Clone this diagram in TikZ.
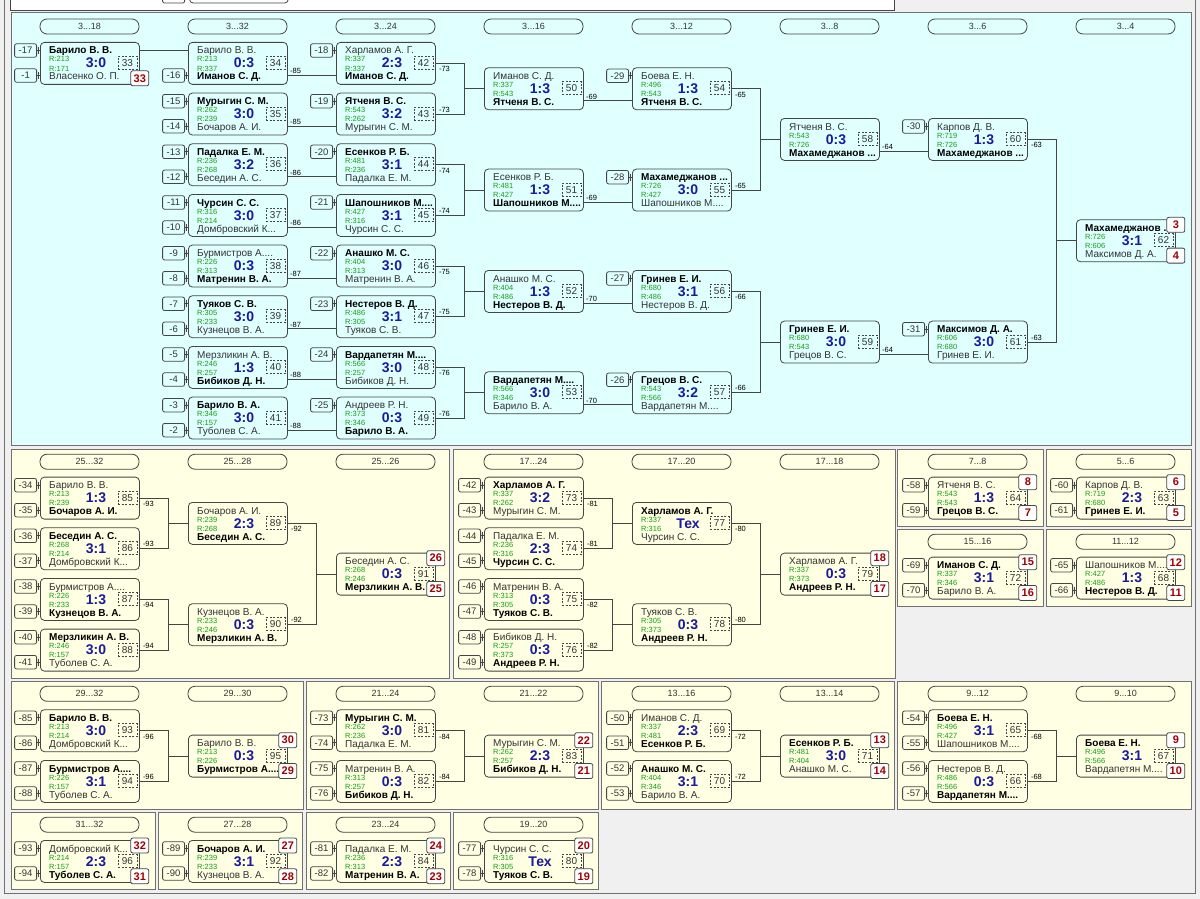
\documentclass[tikz,border=0pt]{standalone}
\usepackage{fontspec}
\setmainfont{Liberation Sans}
\definecolor{bgc}{HTML}{F0F0F0}
\definecolor{cyanp}{HTML}{E0FFFF}
\definecolor{yelp}{HTML}{FFFFE3}
\definecolor{boxc}{HTML}{454545}
\definecolor{panc}{HTML}{707070}
\definecolor{namec}{HTML}{333333}
\definecolor{rc}{HTML}{10A010}
\definecolor{scc}{HTML}{1A1A9E}
\definecolor{redc}{HTML}{A00000}
\tikzset{
 mbox/.style={draw=boxc, rounded corners=4, minimum width=99, minimum height=42, inner sep=0, line width=0.8},
 nm/.style={inner sep=0, font=\fontsize{10}{12}\selectfont, text=namec},
 rr/.style={inner sep=0, font=\fontsize{7.5}{9}\selectfont, text=rc},
 sc/.style={inner sep=0, font=\bfseries\fontsize{14}{16}\selectfont, text=scc},
 dbox/.style={draw=boxc, dash pattern=on 2pt off 1.5pt, line width=0.7, minimum width=19, minimum height=13, inner sep=0, font=\fontsize{10}{12}\selectfont, text=namec},
 nbox/.style={draw=boxc, rounded corners=2, line width=0.8, minimum width=22, minimum height=13.5, inner sep=0, font=\fontsize{9.5}{11}\selectfont, text=namec},
 rbox/.style={draw=boxc, fill=white, rounded corners=2, line width=0.8, minimum width=18, minimum height=15, inner sep=0, font=\bfseries\fontsize{11}{12}\selectfont, text=redc},
 pill/.style={draw=boxc, rounded corners=7, line width=0.8, minimum width=99, minimum height=15, inner sep=0, font=\fontsize{9}{10}\selectfont, text=namec},
 conn/.style={draw=boxc, line width=0.8},
 lbl/.style={inner sep=0.5, font=\fontsize{7.5}{9}\selectfont, text=black},
 pan/.style={draw=panc, line width=1},
}
\newcommand\wn[1]{\textbf{\color{black}#1}}
\newcommand\mmatch[9]{%
 \node[mbox, anchor=north west] (m#1) at (#2,#3) {};
 \coordinate (m#1tl) at (#2,#3+8.5);
 \coordinate (m#1tr) at (#2+99,#3+8.5);
 \coordinate (m#1bl) at (#2,#3+33.5);
 \coordinate (m#1br) at (#2+99,#3+33.5);
 \node[nm, anchor=base west] (m#1n1) at (#2+9,#3+12) {#6};
 \node[rr, anchor=base west] (m#1r1) at (#2+9,#3+20) {R:#7};
 \node[rr, anchor=base west] (m#1r2) at (#2+9,#3+29) {R:#9};
 \node[nm, anchor=base west] (m#1n2) at (#2+9,#3+38) {#8};
 \node[sc, anchor=base] (m#1s) at (#2+56,#3+26) {#5};
 \node[dbox] (m#1d) at (#2+87.5,#3+21) {#4};
}
\newcommand\mredt[2]{\node[rbox] (m#1rt) at ([yshift=-5.5pt]m#1.north east) {#2};}
\newcommand\mredb[2]{\node[rbox] (m#1rb) at ([yshift=6.5pt]m#1.south east) {#2};}
\newcommand\mnb[3]{%
 \node[nbox, anchor=east] (m#1x#2) at ([xshift=-3pt]m#1#2l) {#3};
 \draw[conn] (m#1x#2.east) -- (m#1#2l);
 \draw[conn] ([xshift=-1.5pt,yshift=3.5pt]m#1#2l) -- ([xshift=-1.5pt,yshift=-3.5pt]m#1#2l);
}
\newcommand\mlinen[3]{\draw[conn] (m#1#3r) -- (m#2#3l);}
\newcommand\mline[4]{%
 \draw[conn] (m#1#3r) -- (m#2#3l);
 \node[lbl, anchor=south west] (m#1lab) at ([xshift=2.5pt,yshift=1pt]m#1#3r) {#4};
}
\newcommand\mbracket[4]{%
 \draw[conn] (m#1.east) -- ++(28.5,0) |- (m#3.west);
 \draw[conn] (m#2.east) -- ++(28.5,0) |- (m#3.west);
 \node[lbl, anchor=north west] (m#1lab) at ([xshift=2.5pt,yshift=-2.5pt]m#1.east) {#4};
 \node[lbl, anchor=south west] (m#2lab) at ([xshift=2.5pt,yshift=1pt]m#2.east) {#4};
}
\newcommand\mhead[3]{\node[pill] (h#1) at (#1+49.5,#2) {#3};}
\begin{document}
\begin{tikzpicture}[x=1pt,y=-1pt]
\useasboundingbox (0,0) rectangle (1200,899);
\fill[bgc] (0,0) rectangle (1200,899);
\draw[panc, line width=1] (4.5,-3) -- (4.5,893.5) -- (1195.5,893.5) -- (1195.5,-3);
% top white strip
\filldraw[fill=white, draw=boxc, line width=1] (10,-3) rectangle (894,10.5);
\begin{scope}
\clip (10.5,0) rectangle (893.5,10);
\node[nbox, anchor=south east, minimum height=20] (xa) at (185,3.5) {};
\node[mbox, anchor=south west] (xb) at (189,3.5) {};
\end{scope}
% panels
\filldraw[pan, fill=cyanp] (11,13) rectangle (1191,445);
\filldraw[pan, fill=yelp] (11,449) rectangle (449,678);
\filldraw[pan, fill=yelp] (453,449) rectangle (895,678);
\filldraw[pan, fill=yelp] (897,449) rectangle (1043,526);
\filldraw[pan, fill=yelp] (1046,449) rectangle (1191,526);
\filldraw[pan, fill=yelp] (897,529) rectangle (1043,606);
\filldraw[pan, fill=yelp] (1046,529) rectangle (1191,606);
\filldraw[pan, fill=yelp] (11,681) rectangle (303,809);
\filldraw[pan, fill=yelp] (306,681) rectangle (598,809);
\filldraw[pan, fill=yelp] (601,681) rectangle (894,809);
\filldraw[pan, fill=yelp] (897,681) rectangle (1191,809);
\filldraw[pan, fill=yelp] (11,812) rectangle (155,889);
\filldraw[pan, fill=yelp] (158,812) rectangle (302,889);
\filldraw[pan, fill=yelp] (306,812) rectangle (450,889);
\filldraw[pan, fill=yelp] (453,812) rectangle (598,889);
% headers
\mhead{40}{26.5}{3...18}\mhead{188}{26.5}{3...32}\mhead{336}{26.5}{3...24}\mhead{484}{26.5}{3...16}
\mhead{632}{26.5}{3...12}\mhead{780}{26.5}{3...8}\mhead{928}{26.5}{3...6}\mhead{1076}{26.5}{3...4}
\node[pill] (g1) at (89.5,461.7) {25...32};
\node[pill] (g2) at (237.5,461.7) {25...28};
\node[pill] (g3) at (385.5,461.7) {25...26};
\node[pill] (g4) at (533.5,461.7) {17...24};
\node[pill] (g5) at (681.5,461.7) {17...20};
\node[pill] (g6) at (829.5,461.7) {17...18};
\node[pill] (g7) at (977.5,461.7) {7...8};
\node[pill] (g8) at (1125.5,461.7) {5...6};
\node[pill] (g9) at (977.5,541.7) {15...16};
\node[pill] (g10) at (1125.5,541.7) {11...12};
\node[pill] (g11) at (89.5,693.8) {29...32};
\node[pill] (g12) at (237.5,693.8) {29...30};
\node[pill] (g13) at (385.5,693.8) {21...24};
\node[pill] (g14) at (533.5,693.8) {21...22};
\node[pill] (g15) at (681.5,693.8) {13...16};
\node[pill] (g16) at (829.5,693.8) {13...14};
\node[pill] (g17) at (977.5,693.8) {9...12};
\node[pill] (g18) at (1125.5,693.8) {9...10};
\node[pill] (g19) at (89.5,824.7) {31...32};
\node[pill] (g20) at (237.5,824.7) {27...28};
\node[pill] (g21) at (385.5,824.7) {23...24};
\node[pill] (g22) at (533.5,824.7) {19...20};
% ===== top panel =====
\mmatch{33}{40}{42}{33}{3:0}{\wn{Барило В. В.}}{213}{Власенко О. П.}{171}
\mnb{33}{t}{-17}\mnb{33}{b}{-1}
\mmatch{34}{188}{42}{34}{0:3}{Барило В. В.}{213}{\wn{Иманов С. Д.}}{337}
\mnb{34}{b}{-16}
\mmatch{35}{188}{92.67}{35}{3:0}{\wn{Мурыгин С. М.}}{262}{Бочаров А. И.}{239}
\mnb{35}{t}{-15}\mnb{35}{b}{-14}
\mmatch{36}{188}{143.33}{36}{3:2}{\wn{Падалка Е. М.}}{236}{Беседин А. С.}{268}
\mnb{36}{t}{-13}\mnb{36}{b}{-12}
\mmatch{37}{188}{194}{37}{3:0}{\wn{Чурсин С. С.}}{316}{Домбровский К...}{214}
\mnb{37}{t}{-11}\mnb{37}{b}{-10}
\mmatch{38}{188}{244.67}{38}{0:3}{Бурмистров А....}{226}{\wn{Матренин В. А.}}{313}
\mnb{38}{t}{-9}\mnb{38}{b}{-8}
\mmatch{39}{188}{295.33}{39}{3:0}{\wn{Туяков С. В.}}{305}{Кузнецов В. А.}{233}
\mnb{39}{t}{-7}\mnb{39}{b}{-6}
\mmatch{40}{188}{346}{40}{1:3}{Мерзликин А. В.}{246}{\wn{Бибиков Д. Н.}}{257}
\mnb{40}{t}{-5}\mnb{40}{b}{-4}
\mmatch{41}{188}{396.67}{41}{3:0}{\wn{Барило В. А.}}{346}{Туболев С. А.}{157}
\mnb{41}{t}{-3}\mnb{41}{b}{-2}
\mmatch{42}{336}{42}{42}{2:3}{Харламов А. Г.}{337}{\wn{Иманов С. Д.}}{337}\mnb{42}{t}{-18}
\mmatch{43}{336}{92.67}{43}{3:2}{\wn{Ятченя В. С.}}{543}{Мурыгин С. М.}{262}\mnb{43}{t}{-19}
\mmatch{44}{336}{143.33}{44}{3:1}{\wn{Есенков Р. Б.}}{481}{Падалка Е. М.}{236}\mnb{44}{t}{-20}
\mmatch{45}{336}{194}{45}{3:1}{\wn{Шапошников М....}}{427}{Чурсин С. С.}{316}\mnb{45}{t}{-21}
\mmatch{46}{336}{244.67}{46}{3:0}{\wn{Анашко М. С.}}{404}{Матренин В. А.}{313}\mnb{46}{t}{-22}
\mmatch{47}{336}{295.33}{47}{3:1}{\wn{Нестеров В. Д.}}{486}{Туяков С. В.}{305}\mnb{47}{t}{-23}
\mmatch{48}{336}{346}{48}{3:0}{\wn{Вардапетян М....}}{566}{Бибиков Д. Н.}{257}\mnb{48}{t}{-24}
\mmatch{49}{336}{396.67}{49}{0:3}{Андреев Р. Н.}{373}{\wn{Барило В. А.}}{346}\mnb{49}{t}{-25}
\mmatch{50}{484}{67.33}{50}{1:3}{Иманов С. Д.}{337}{\wn{Ятченя В. С.}}{543}
\mmatch{51}{484}{168.67}{51}{1:3}{Есенков Р. Б.}{481}{\wn{Шапошников М....}}{427}
\mmatch{52}{484}{270}{52}{1:3}{Анашко М. С.}{404}{\wn{Нестеров В. Д.}}{486}
\mmatch{53}{484}{371.33}{53}{3:0}{\wn{Вардапетян М....}}{566}{Барило В. А.}{346}
\mmatch{54}{632}{67.33}{54}{1:3}{Боева Е. Н.}{496}{\wn{Ятченя В. С.}}{543}\mnb{54}{t}{-29}
\mmatch{55}{632}{168.67}{55}{3:0}{\wn{Махамеджанов ...}}{726}{Шапошников М....}{427}\mnb{55}{t}{-28}
\mmatch{56}{632}{270}{56}{3:1}{\wn{Гринев Е. И.}}{680}{Нестеров В. Д.}{486}\mnb{56}{t}{-27}
\mmatch{57}{632}{371.33}{57}{3:2}{\wn{Грецов В. С.}}{543}{Вардапетян М....}{566}\mnb{57}{t}{-26}
\mmatch{58}{780}{118}{58}{0:3}{Ятченя В. С.}{543}{\wn{Махамеджанов ...}}{726}
\mmatch{59}{780}{320.67}{59}{3:0}{\wn{Гринев Е. И.}}{680}{Грецов В. С.}{543}
\mmatch{60}{928}{118}{60}{1:3}{Карпов Д. В.}{719}{\wn{Махамеджанов ...}}{726}\mnb{60}{t}{-30}
\mmatch{61}{928}{320.67}{61}{3:0}{\wn{Максимов Д. А.}}{606}{Гринев Е. И.}{680}\mnb{61}{t}{-31}
\mmatch{62}{1076}{219.33}{62}{3:1}{\wn{Махамеджанов ...}}{726}{Максимов Д. А.}{606}
\mlinen{33}{34}{t}
\mline{34}{42}{b}{-85}\mline{35}{43}{b}{-85}\mline{36}{44}{b}{-86}\mline{37}{45}{b}{-86}
\mline{38}{46}{b}{-87}\mline{39}{47}{b}{-87}\mline{40}{48}{b}{-88}\mline{41}{49}{b}{-88}
\mbracket{42}{43}{50}{-73}\mbracket{44}{45}{51}{-74}\mbracket{46}{47}{52}{-75}\mbracket{48}{49}{53}{-76}
\mline{50}{54}{b}{-69}\mline{51}{55}{b}{-69}\mline{52}{56}{b}{-70}\mline{53}{57}{b}{-70}
\mbracket{54}{55}{58}{-65}\mbracket{56}{57}{59}{-66}
\mline{58}{60}{b}{-64}\mline{59}{61}{b}{-64}
\mbracket{60}{61}{62}{-63}
\mredb{33}{33}
\mredt{62}{3}\mredb{62}{4}
% ===== 25...32 =====
\mmatch{85}{40}{476.7}{85}{1:3}{Барило В. В.}{213}{\wn{Бочаров А. И.}}{239}\mnb{85}{t}{-34}\mnb{85}{b}{-35}
\mmatch{86}{40}{527.3}{86}{3:1}{\wn{Беседин А. С.}}{268}{Домбровский К...}{214}\mnb{86}{t}{-36}\mnb{86}{b}{-37}
\mmatch{87}{40}{578}{87}{1:3}{Бурмистров А....}{226}{\wn{Кузнецов В. А.}}{233}\mnb{87}{t}{-38}\mnb{87}{b}{-39}
\mmatch{88}{40}{628.7}{88}{3:0}{\wn{Мерзликин А. В.}}{246}{Туболев С. А.}{157}\mnb{88}{t}{-40}\mnb{88}{b}{-41}
\mmatch{89}{188}{502}{89}{2:3}{Бочаров А. И.}{239}{\wn{Беседин А. С.}}{268}
\mmatch{90}{188}{603.3}{90}{0:3}{Кузнецов В. А.}{233}{\wn{Мерзликин А. В.}}{246}
\mmatch{91}{336}{552.7}{91}{0:3}{Беседин А. С.}{268}{\wn{Мерзликин А. В.}}{246}
\mbracket{85}{86}{89}{-93}\mbracket{87}{88}{90}{-94}\mbracket{89}{90}{91}{-92}
\mredt{91}{26}\mredb{91}{25}
% ===== 17...24 =====
\mmatch{73}{484}{476.7}{73}{3:2}{\wn{Харламов А. Г.}}{337}{Мурыгин С. М.}{262}\mnb{73}{t}{-42}\mnb{73}{b}{-43}
\mmatch{74}{484}{527.3}{74}{2:3}{Падалка Е. М.}{236}{\wn{Чурсин С. С.}}{316}\mnb{74}{t}{-44}\mnb{74}{b}{-45}
\mmatch{75}{484}{578}{75}{0:3}{Матренин В. А.}{313}{\wn{Туяков С. В.}}{305}\mnb{75}{t}{-46}\mnb{75}{b}{-47}
\mmatch{76}{484}{628.7}{76}{0:3}{Бибиков Д. Н.}{257}{\wn{Андреев Р. Н.}}{373}\mnb{76}{t}{-48}\mnb{76}{b}{-49}
\mmatch{77}{632}{502}{77}{Тех}{\wn{Харламов А. Г.}}{337}{Чурсин С. С.}{316}
\mmatch{78}{632}{603.3}{78}{0:3}{Туяков С. В.}{305}{\wn{Андреев Р. Н.}}{373}
\mmatch{79}{780}{552.7}{79}{0:3}{Харламов А. Г.}{337}{\wn{Андреев Р. Н.}}{373}
\mbracket{73}{74}{77}{-81}\mbracket{75}{76}{78}{-82}\mbracket{77}{78}{79}{-80}
\mredt{79}{18}\mredb{79}{17}
% ===== small panels =====
\mmatch{64}{928}{476.7}{64}{1:3}{Ятченя В. С.}{543}{\wn{Грецов В. С.}}{543}\mnb{64}{t}{-58}\mnb{64}{b}{-59}
\mredt{64}{8}\mredb{64}{7}
\mmatch{63}{1076}{476.7}{63}{2:3}{Карпов Д. В.}{719}{\wn{Гринев Е. И.}}{680}\mnb{63}{t}{-60}\mnb{63}{b}{-61}
\mredt{63}{6}\mredb{63}{5}
\mmatch{72}{928}{556.7}{72}{3:1}{\wn{Иманов С. Д.}}{337}{Барило В. А.}{346}\mnb{72}{t}{-69}\mnb{72}{b}{-70}
\mredt{72}{15}\mredb{72}{16}
\mmatch{68}{1076}{556.7}{68}{1:3}{Шапошников М....}{427}{\wn{Нестеров В. Д.}}{486}\mnb{68}{t}{-65}\mnb{68}{b}{-66}
\mredt{68}{12}\mredb{68}{11}
% ===== row 3 =====
\mmatch{93}{40}{709.3}{93}{3:0}{\wn{Барило В. В.}}{213}{Домбровский К...}{214}\mnb{93}{t}{-85}\mnb{93}{b}{-86}
\mmatch{94}{40}{760}{94}{3:1}{\wn{Бурмистров А....}}{226}{Туболев С. А.}{157}\mnb{94}{t}{-87}\mnb{94}{b}{-88}
\mmatch{95}{188}{734.7}{95}{0:3}{Барило В. В.}{213}{\wn{Бурмистров А....}}{226}
\mbracket{93}{94}{95}{-96}
\mredt{95}{30}\mredb{95}{29}
\mmatch{81}{336}{709.3}{81}{3:0}{\wn{Мурыгин С. М.}}{262}{Падалка Е. М.}{236}\mnb{81}{t}{-73}\mnb{81}{b}{-74}
\mmatch{82}{336}{760}{82}{0:3}{Матренин В. А.}{313}{\wn{Бибиков Д. Н.}}{257}\mnb{82}{t}{-75}\mnb{82}{b}{-76}
\mmatch{83}{484}{734.7}{83}{2:3}{Мурыгин С. М.}{262}{\wn{Бибиков Д. Н.}}{257}
\mbracket{81}{82}{83}{-84}
\mredt{83}{22}\mredb{83}{21}
\mmatch{69}{632}{709.3}{69}{2:3}{Иманов С. Д.}{337}{\wn{Есенков Р. Б.}}{481}\mnb{69}{t}{-50}\mnb{69}{b}{-51}
\mmatch{70}{632}{760}{70}{3:1}{\wn{Анашко М. С.}}{404}{Барило В. А.}{346}\mnb{70}{t}{-52}\mnb{70}{b}{-53}
\mmatch{71}{780}{734.7}{71}{3:0}{\wn{Есенков Р. Б.}}{481}{Анашко М. С.}{404}
\mbracket{69}{70}{71}{-72}
\mredt{71}{13}\mredb{71}{14}
\mmatch{65}{928}{709.3}{65}{3:1}{\wn{Боева Е. Н.}}{496}{Шапошников М....}{427}\mnb{65}{t}{-54}\mnb{65}{b}{-55}
\mmatch{66}{928}{760}{66}{0:3}{Нестеров В. Д.}{486}{\wn{Вардапетян М....}}{566}\mnb{66}{t}{-56}\mnb{66}{b}{-57}
\mmatch{67}{1076}{734.7}{67}{3:1}{\wn{Боева Е. Н.}}{496}{Вардапетян М....}{566}
\mbracket{65}{66}{67}{-68}
\mredt{67}{9}\mredb{67}{10}
% ===== row 4 =====
\mmatch{96}{40}{840}{96}{2:3}{Домбровский К...}{214}{\wn{Туболев С. А.}}{157}\mnb{96}{t}{-93}\mnb{96}{b}{-94}
\mredt{96}{32}\mredb{96}{31}
\mmatch{92}{188}{840}{92}{3:1}{\wn{Бочаров А. И.}}{239}{Кузнецов В. А.}{233}\mnb{92}{t}{-89}\mnb{92}{b}{-90}
\mredt{92}{27}\mredb{92}{28}
\mmatch{84}{336}{840}{84}{2:3}{Падалка Е. М.}{236}{\wn{Матренин В. А.}}{313}\mnb{84}{t}{-81}\mnb{84}{b}{-82}
\mredt{84}{24}\mredb{84}{23}
\mmatch{80}{484}{840}{80}{Тех}{Чурсин С. С.}{316}{\wn{Туяков С. В.}}{305}\mnb{80}{t}{-77}\mnb{80}{b}{-78}
\mredt{80}{20}\mredb{80}{19}
\end{tikzpicture}
\end{document}
